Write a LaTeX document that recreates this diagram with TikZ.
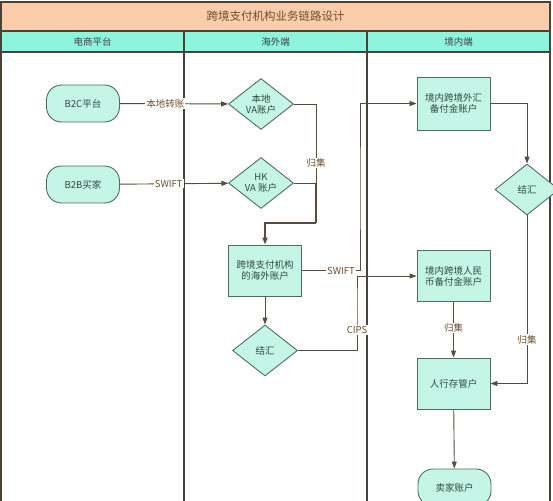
\documentclass[tikz,border=0pt]{standalone}
\usepackage{fontspec}
\setmainfont{Noto Sans CJK SC}
\usetikzlibrary{shapes.geometric,arrows.meta}
\definecolor{framec}{HTML}{4A4238}
\definecolor{titlebg}{HTML}{FBCDAA}
\definecolor{headbg}{HTML}{8EF4DC}
\definecolor{nodebg}{HTML}{C4F5E6}
\definecolor{nodeline}{HTML}{4E6E5C}
\definecolor{linec}{HTML}{5A4C3C}
\definecolor{labc}{HTML}{6E5030}
\definecolor{nodetxt}{HTML}{2E4A3C}
\tikzset{
  x=1pt,y=-1pt,
  every node/.style={font=\fontsize{9.5}{11}\selectfont},
  boxnode/.style={draw=nodeline,fill=nodebg,text=nodetxt,line width=0.9pt,minimum width=73pt,minimum height=51pt,inner sep=0pt,align=center},
  pillnode/.style={boxnode,rounded corners=15pt,minimum height=37pt},
  dianode/.style={diamond,draw=nodeline,fill=nodebg,text=nodetxt,line width=0.9pt,minimum width=65pt,minimum height=51pt,inner sep=0pt,aspect=1.27,align=center},
  conn/.style={draw=linec,line width=0.9pt},
  arr/.style={conn,-{Triangle[length=7pt,width=5pt]}},
  lab/.style={fill=white,text=labc,inner sep=1pt},
}
\begin{document}
\begin{tikzpicture}
\useasboundingbox (0,0) rectangle (553,500);
% frame
\fill[titlebg] (1,2) rectangle (550,31);
\fill[headbg] (1,31) rectangle (550,52);
\draw[framec,line width=1.5pt] (1,2) rectangle (550,515);
\draw[framec,line width=1.5pt] (1,31) -- (550,31);
\draw[framec,line width=1.5pt] (1,52) -- (550,52);
\draw[framec,line width=1.5pt] (184,31) -- (184,515);
\draw[framec,line width=1.5pt] (367,31) -- (367,515);
\node[text=labc,font=\fontsize{11.5}{13}\selectfont] (title) at (275.5,16.5) {跨境支付机构业务链路设计};
\node[text=black!75] (h1) at (92.5,41.5) {电商平台};
\node[text=black!75] (h2) at (275.5,41.5) {海外端};
\node[text=black!75] (h3) at (458.5,41.5) {境内端};
% nodes
\node[pillnode] (b2c) at (83,103.5) {B2C平台};
\node[pillnode] (b2b) at (83,184.5) {B2B买家};
\node[dianode] (va1) at (261,104) {本地\\VA账户};
\node[dianode] (hk) at (261,183) {HK\\VA 账户};
\node[boxnode] (ovs) at (265,270.5) {跨境支付机构\\的海外账户};
\node[dianode] (jh1) at (265,350.5) {结汇};
\node[boxnode,minimum height=53pt] (fx) at (453.5,103.5) {境内跨境外汇\\备付金账户};
\node[dianode,minimum width=64pt] (jh2) at (527,189.5) {结汇};
\node[boxnode] (rmb) at (453.5,276) {境内跨境人民\\币备付金账户};
\node[boxnode] (pbc) at (453.5,383.5) {人行存管户};
\node[pillnode] (seller) at (454.5,487.5) {卖家账户};
% connectors
\draw[arr] (b2c) -- node[lab,pos=0.42] {本地转账} (va1);
\draw[arr] (b2b) -- node[lab,pos=0.45] {SWIFT} (hk);
\coordinate (j1) at (316,223);
\draw[conn] (va1.east) -| (j1);
\draw[conn] (hk.east) -- (hk.east -| j1);
\draw[conn,line width=1.5pt] (hk.east -| j1) -- (j1);
\draw[arr,line width=1.5pt] (j1) -| (ovs.north);
\node[lab] (gj1) at (316,163) {归集};
\draw[arr] (ovs) -- (jh1);
\coordinate (s1) at (360,190);
\draw[arr] (ovs.east) -| (s1) |- (fx.west);
\node[lab] (swift2) at (341,271) {SWIFT};
\coordinate (c1) at (357,300);
\draw[arr] (jh1.east) -| (c1) |- (rmb.west);
\node[lab] (cips) at (357,330) {CIPS};
\draw[arr] (fx.east) -| (jh2.north);
\draw[arr] (jh2.south) |- node[lab,pos=0.37] {归集} (pbc.east);
\draw[arr] (rmb) -- node[lab,pos=0.47] {归集} (pbc);
\draw[arr] (pbc) -- (seller);
\end{tikzpicture}
\end{document}
